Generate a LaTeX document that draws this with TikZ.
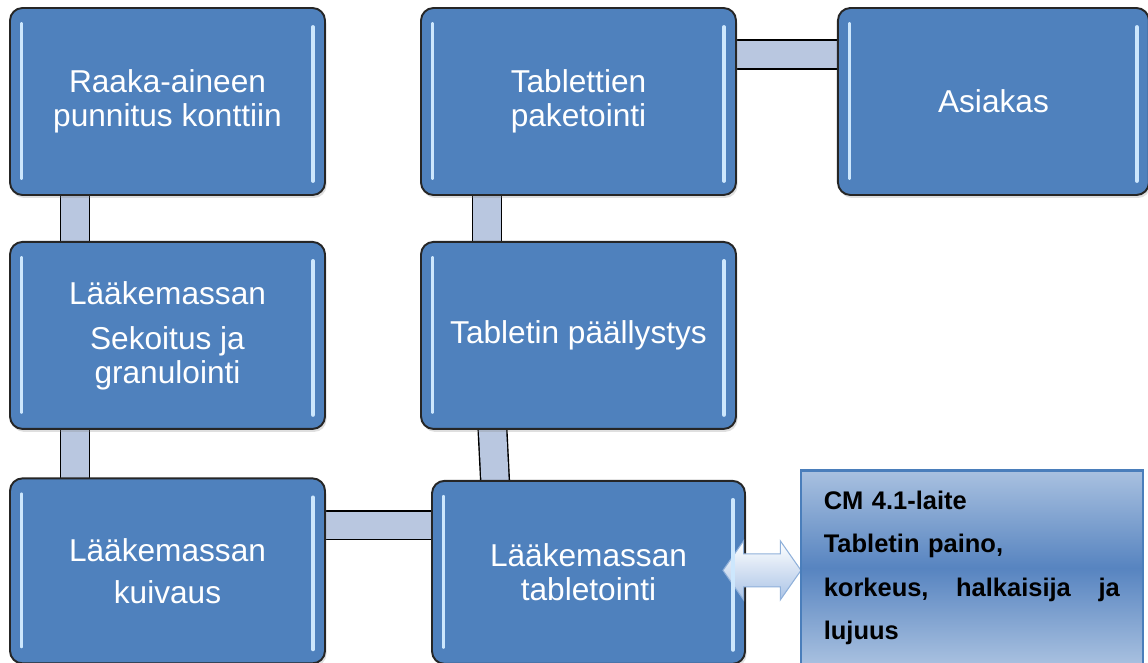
\documentclass[tikz,border=0pt]{standalone}
\usepackage{fontspec}
\setmainfont{Liberation Sans}
\usetikzlibrary{positioning, shapes.arrows, shadows, backgrounds}

\definecolor{boxblue}{HTML}{4F81BD}
\definecolor{barblue}{HTML}{B9C7E0}
\definecolor{glintblue}{HTML}{CDE7FD}
\definecolor{arrowedge}{HTML}{8FB0DA}
\definecolor{arrowfill}{HTML}{A9C3E6}
\definecolor{infolight}{HTML}{A9C1E0}
\definecolor{infodark}{HTML}{5784C0}
\definecolor{infoedge}{HTML}{4A7EBB}

\begin{document}
\begin{tikzpicture}[
    node distance=0.9cm,
    stage/.style={rectangle, rounded corners=0.25cm, fill=boxblue, draw=black!85, line width=1.1pt, text=white, align=center, minimum width=6.3cm, minimum height=3.74cm, font=\fontsize{18}{19}\selectfont, drop shadow={shadow xshift=0.03cm, shadow yshift=-0.06cm, opacity=0.25}},
    bar/.style={draw=black, line width=0.8pt, double=barblue, double distance=15.5pt, shorten <=-4pt, shorten >=-4pt},
    glint/.style={draw=glintblue, line width=2.2pt, line cap=round},
    twoway/.style={double arrow, double arrow head extend=0.26cm, double arrow tip angle=110, minimum height=1.56cm, minimum width=0pt, inner xsep=0pt, inner ysep=0.32cm, draw=arrowedge, line width=0.6pt, top color=white, bottom color=arrowfill},
    infobox/.style={rectangle, top color=infolight, bottom color=infolight, middle color=infodark, draw=infoedge, line width=1.3pt, text width=5.92cm, inner xsep=0.46cm, minimum height=3.9cm, align=left, font=\fontsize{14.5}{24.6}\selectfont\bfseries}
]
\useasboundingbox (0,0) rectangle (22.96,-13.26);

% Nodes
\node[stage] (raw) at (3.35,-2.03) {Raaka-aineen\\punnitus konttiin};
\node[stage, below=of raw] (mixing) {Lääkemassan\\[7pt] Sekoitus ja\\ granulointi};
\node[stage, below=0.95cm of mixing, minimum height=3.7cm] (drying) {Lääkemassan\\[5pt] kuivaus};
\node[stage] (packing) at (11.57,-2.03) {Tablettien\\paketointi};
\node[stage, right=2cm of packing, minimum width=6.22cm] (customer) {Asiakas};
\node[stage, below=of packing] (coating) {Tabletin päällystys};
\node[stage, below=1.0cm of coating, xshift=0.2cm, minimum height=3.66cm, minimum width=6.26cm] (tableting) {Lääkemassan\\tabletointi};

\node[twoway] (link) at ([xshift=0.32cm, yshift=0.04cm]tableting.east) {};
\node[infobox, right=-0.04cm of link, yshift=0.05cm] (cm) {CM 4.1-laite\\ Tabletin paino,\\ korkeus,\hfill halkaisija\hfill ja\\ lujuus};

% Highlights
\foreach \b in {raw, mixing, drying, packing, customer, coating, tableting} {
    \draw[glint] ([xshift=0.25cm, yshift=-0.34cm]\b.north west) -- ([xshift=0.25cm, yshift=0.36cm]\b.south west);
    \draw[glint] ([xshift=-0.26cm, yshift=-0.4cm]\b.north east) -- ([xshift=-0.26cm, yshift=0.3cm]\b.south east);
}

% Paths
\begin{scope}[on background layer]
\draw[bar] ([xshift=-1.85cm]raw.south) -- ([xshift=-1.85cm]mixing.north);
\draw[bar] ([xshift=-1.85cm]mixing.south) -- ([xshift=-1.85cm]drying.north);
\draw[bar] ([yshift=0.91cm]drying.east) -- ([yshift=0.91cm]drying.east -| tableting.west);
\draw[bar] ([xshift=-1.87cm]tableting.north) -- ([xshift=-1.72cm]coating.south);
\draw[bar] ([xshift=-1.83cm]coating.north) -- ([xshift=-1.83cm]packing.south);
\draw[bar] ([yshift=0.94cm]packing.east) -- ([yshift=0.94cm]customer.west);
\end{scope}

\end{tikzpicture}
\end{document}
